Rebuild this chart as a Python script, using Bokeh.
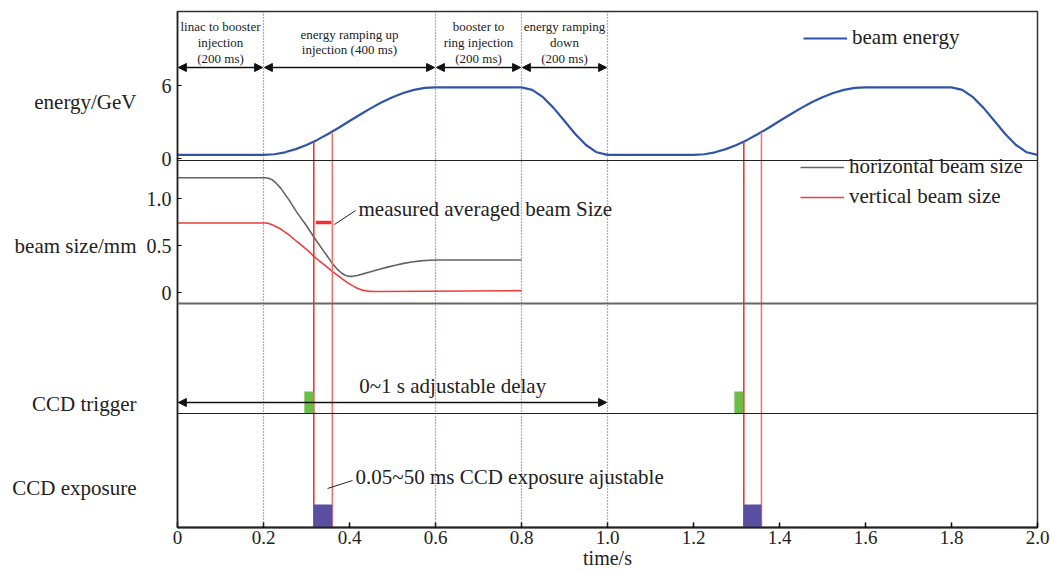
from bokeh.plotting import figure
from bokeh.models import (Range1d, FixedTicker, Span, Label, Arrow, NormalHead,
                          Legend, LegendItem, LinearAxis)
from bokeh.embed import file_html
from bokeh.resources import INLINE

# ---------------- data ----------------
x_ticks = [0.0, 0.2, 0.4, 0.6, 0.8, 1.0, 1.2, 1.4, 1.6, 1.8, 2.0]
x_tick_labels = ["0", "0.2", "0.4", "0.6", "0.8", "1.0", "1.2", "1.4", "1.6", "1.8", "2.0"]
energy_ticks = [0, 6]
energy_tick_labels = ["0", "6"]
size_ticks = [0, 0.5, 1.0]
size_tick_labels = ["0", "0.5", "1.0"]
panel_titles = ["energy/GeV", "beam size/mm", "CCD trigger", "CCD exposure"]

energy_t = [0.0, 0.2, 0.225, 0.25, 0.275, 0.3, 0.325, 0.35, 0.375, 0.4, 0.425, 0.45,
            0.475, 0.5, 0.525, 0.55, 0.575, 0.6, 0.8, 0.825, 0.85, 0.875, 0.9, 0.925,
            0.95, 0.975, 1.0, 1.2, 1.225, 1.25, 1.275, 1.3, 1.325, 1.35, 1.375, 1.4,
            1.425, 1.45, 1.475, 1.5, 1.525, 1.55, 1.575, 1.6, 1.8, 1.825, 1.85, 1.875,
            1.9, 1.925, 1.95, 1.975, 2.0]
energy_gev = [0.30, 0.30, 0.35, 0.51, 0.77, 1.11, 1.53, 2.01, 2.53, 3.08, 3.62, 4.14,
              4.62, 5.04, 5.38, 5.64, 5.80, 5.85, 5.85, 5.64, 5.04, 4.14, 3.08, 2.01,
              1.11, 0.51, 0.30, 0.30, 0.35, 0.51, 0.77, 1.11, 1.53, 2.01, 2.53, 3.08,
              3.62, 4.14, 4.62, 5.04, 5.38, 5.64, 5.80, 5.85, 5.85, 5.64, 5.04, 4.14,
              3.08, 2.01, 1.11, 0.51, 0.30]

hsize_t = [0.0, 0.205, 0.212, 0.22, 0.23, 0.24, 0.26, 0.278, 0.30, 0.317, 0.34, 0.36,
           0.372, 0.382, 0.39, 0.398, 0.408, 0.418, 0.432, 0.449, 0.468, 0.488, 0.507,
           0.526, 0.545, 0.565, 0.585, 0.604, 0.8]
hsize_mm = [1.22, 1.22, 1.215, 1.20, 1.16, 1.11, 0.98, 0.85, 0.71, 0.59, 0.44, 0.31,
            0.245, 0.205, 0.183, 0.172, 0.172, 0.18, 0.198, 0.22, 0.245, 0.27, 0.29,
            0.31, 0.325, 0.336, 0.343, 0.345, 0.345]
vsize_t = [0.0, 0.205, 0.212, 0.22, 0.23, 0.24, 0.26, 0.278, 0.30, 0.317, 0.34, 0.36,
           0.38, 0.395, 0.408, 0.418, 0.43, 0.441, 0.455, 0.47, 0.8]
vsize_mm = [0.74, 0.74, 0.735, 0.72, 0.70, 0.675, 0.61, 0.54, 0.46, 0.385, 0.30, 0.225,
            0.155, 0.105, 0.07, 0.045, 0.025, 0.015, 0.01, 0.01, 0.02]

phase_bounds = [0.0, 0.2, 0.6, 0.8, 1.0]
phase_labels = [["linac to booster", "injection", "(200 ms)"],
                ["energy ramping up", "injection (400 ms)"],
                ["booster to", "ring injection", "(200 ms)"],
                ["energy ramping", "down", "(200 ms)"]]

window_start = [0.317, 1.317]
window_end = [0.360, 1.358]
window_start_energy = [1.42, 1.42]
window_end_energy = [2.16, 2.16]
trigger_start = [0.295, 1.295]
trigger_end = [0.317, 1.316]
measured_t = [0.322, 0.358]
measured_size = [0.745, 0.745]
delay_t = [0.0, 1.0]

# ---------------- layout (pixel positions inside the 516px tall frame) ----------------
FRAME_H = 516
E0_V, E_PX = 369, 73 / 6.0     # energy 0 level / px per GeV
S0_V, S_PX = 235, 94.0         # beam size 0 level / px per mm
TITLE_V = [426, 282, 124, 40]  # vertical centres of the panel titles
FONT = "Liberation Serif"
FONT_Q = "'Liberation Serif', 'Times New Roman', serif"
TXT = "#222222"

p = figure(width=1051, height=573, output_backend="svg", toolbar_location=None,
           x_range=Range1d(0, 2.0), y_range=Range1d(0, FRAME_H),
           min_border_left=177, min_border_right=14, min_border_top=11, min_border_bottom=46)
p.extra_y_ranges = {
    "energy": Range1d(-E0_V / E_PX, (FRAME_H - E0_V) / E_PX),
    "size": Range1d(-S0_V / S_PX, (FRAME_H - S0_V) / S_PX),
}
p.grid.visible = False
p.outline_line_color = "#333333"
p.outline_line_width = 1.5
p.background_fill_color = "white"
p.border_fill_color = "white"

# x axis
xa = p.xaxis[0]
xa.ticker = FixedTicker(ticks=x_ticks)
xa.major_label_overrides = {t: l for t, l in zip(x_ticks, x_tick_labels)}
xa.minor_tick_line_color = None
xa.major_tick_in = 5
xa.major_tick_out = 0
xa.major_tick_line_width = 1.5
xa.axis_line_width = 2
xa.axis_line_color = "#222222"
xa.major_label_text_font = FONT_Q
xa.major_label_text_font_size = "19px"
xa.major_label_text_color = TXT
xa.major_label_standoff = 3
xa.axis_label = "time/s"
xa.axis_label_text_font = FONT_Q
xa.axis_label_text_font_size = "20px"
xa.axis_label_text_font_style = "normal"
xa.axis_label_text_color = TXT
xa.axis_label_standoff = 0

# y axis (mixed ticks for energy and beam size panels)
ya = p.yaxis[0]
ytick_pos = [E0_V + round(e * E_PX) for e in energy_ticks] + [S0_V + round(s * S_PX) for s in size_ticks]
ytick_lab = energy_tick_labels + size_tick_labels
ya.ticker = FixedTicker(ticks=ytick_pos)
ya.major_label_overrides = {t: l for t, l in zip(ytick_pos, ytick_lab)}
ya.minor_tick_line_color = None
ya.major_tick_in = 4
ya.major_tick_out = 0
ya.axis_line_width = 1.5
ya.axis_line_color = "#222222"
ya.major_label_text_font = FONT_Q
ya.major_label_text_font_size = "20px"
ya.major_label_text_color = TXT
ya.major_label_standoff = 6

# outer left axis carrying the panel titles
ta = LinearAxis(ticker=FixedTicker(ticks=TITLE_V),
                major_label_overrides={t: l for t, l in zip(TITLE_V, panel_titles)},
                axis_line_color=None, major_tick_line_color=None, minor_tick_line_color=None,
                major_label_text_font=FONT_Q, major_label_text_font_size="21px",
                major_label_text_color=TXT, major_label_standoff=1)
p.add_layout(ta, "left")

# panel separators
for v, col, w in [(367, "#222222", 1.2), (224, "#666666", 1.8), (114, "#222222", 1.2)]:
    p.add_layout(Span(location=v, dimension="width", line_color=col, line_width=w))

# dotted phase boundaries
for b in phase_bounds[1:]:
    p.add_layout(Span(location=b, dimension="height", line_color="#a030c0",
                      line_dash="1 2", line_width=1.2))

# energy curve
e_r = p.line(energy_t, energy_gev, y_range_name="energy", line_color="#2f55a8", line_width=2.2)

# beam sizes
h_r = p.line(hsize_t, hsize_mm, y_range_name="size", line_color="#636363", line_width=1.6)
v_r = p.line(vsize_t, vsize_mm, y_range_name="size", line_color="#f03c3c", line_width=1.6)
p.line(measured_t, measured_size, y_range_name="size", line_color="#ee3030", line_width=3.5)

# measurement window lines (from energy curve down to the bottom)
bottom_e = p.extra_y_ranges["energy"].start
p.segment(x0=window_start, y0=window_start_energy, x1=window_start, y1=[bottom_e] * 2,
          y_range_name="energy", line_color="#e8302c", line_width=1.5)
p.segment(x0=window_end, y0=window_end_energy, x1=window_end, y1=[bottom_e] * 2,
          y_range_name="energy", line_color="#f07070", line_width=1.5)

# CCD trigger and exposure boxes
p.quad(left=trigger_start, right=trigger_end, bottom=114, top=136,
       fill_color="#6cbd45", line_color=None)
p.quad(left=window_start, right=window_end, bottom=0, top=23,
       fill_color="#5a50a2", line_color=None)

# top phase arrows and labels
for i in range(len(phase_bounds) - 1):
    a, b = phase_bounds[i], phase_bounds[i + 1]
    p.add_layout(Arrow(start=NormalHead(size=8, fill_color="#111111", line_color="#111111"),
                       end=NormalHead(size=8, fill_color="#111111", line_color="#111111"),
                       x_start=a + 0.002, y_start=460, x_end=b - 0.002, y_end=460,
                       line_color="#111111", line_width=1.5))
    lines = phase_labels[i]
    ys = [501, 485, 469] if len(lines) == 3 else [493, 478]
    for txt, yy in zip(lines, ys):
        p.add_layout(Label(x=(a + b) / 2, y=yy, text=txt, text_align="center",
                           text_baseline="middle", text_font=FONT,
                           text_font_size="13px", text_color=TXT))

# delay arrow
p.add_layout(Arrow(start=NormalHead(size=8, fill_color="#111111", line_color="#111111"),
                   end=NormalHead(size=8, fill_color="#111111", line_color="#111111"),
                   x_start=delay_t[0] + 0.002, y_start=125, x_end=delay_t[1] - 0.002, y_end=125,
                   line_color="#111111", line_width=1.5))
p.add_layout(Label(x=0.64, y=142, text="0~1 s adjustable delay", text_align="center",
                   text_baseline="middle", text_font=FONT, text_font_size="21px",
                   text_color=TXT))

# annotations with leader lines
p.segment(x0=[0.365, 0.349], y0=[303, 39], x1=[0.414, 0.407], y1=[317, 47],
          line_color="#222222", line_width=1)
p.add_layout(Label(x=0.421, y=319, text="measured averaged beam Size", text_align="left",
                   text_baseline="middle", text_font=FONT, text_font_size="21px",
                   text_color=TXT))
p.add_layout(Label(x=0.414, y=51, text="0.05~50 ms CCD exposure ajustable", text_align="left",
                   text_baseline="middle", text_font=FONT, text_font_size="21px",
                   text_color=TXT))

# legends
leg_common = dict(label_text_font=FONT_Q, label_text_font_size="21px", label_text_color=TXT,
                  glyph_width=44, glyph_height=20, label_height=20, label_standoff=5,
                  spacing=5, padding=0, margin=0, border_line_alpha=0,
                  background_fill_alpha=0)
p.add_layout(Legend(items=[LegendItem(label="beam energy", renderers=[e_r])],
                    location=(626, 477), **leg_common))
p.add_layout(Legend(items=[LegendItem(label="horizontal beam size", renderers=[h_r]),
                           LegendItem(label="vertical beam size", renderers=[v_r])],
                    location=(623, 318), **leg_common))

open("out.html", "w").write(file_html(p, INLINE))
